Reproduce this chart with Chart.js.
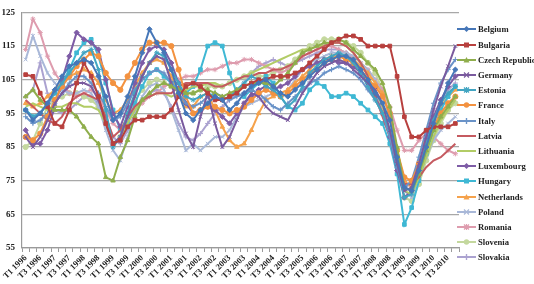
<!DOCTYPE html>
<html>
<head>
<meta charset="utf-8">
<script src="https://cdn.jsdelivr.net/npm/chart.js@4/dist/chart.umd.min.js"></script>
<style>
  html, body { margin: 0; padding: 0; background: #fff; }
  #wrap { position: relative; width: 534px; height: 284px; }
  #legend { position: absolute; left: 457px; top: 0; width: 77px; height: 284px; font-family: "Liberation Serif", serif; font-weight: bold; font-size: 8.6px; color: #222; }
  .li { position: absolute; left: 0; height: 14px; display: flex; align-items: center; white-space: nowrap; }
  .li svg { flex: none; margin-right: 2px; }
</style>
</head>
<body>
<div id="wrap">
  <canvas id="c" width="534" height="284"></canvas>
  <div id="legend"></div>
</div>
<script>
// Categories: quarters T1 1996 .. T4 2010
const years = [1996,1997,1998,1999,2000,2001,2002,2003,2004,2005,2006,2007,2008,2009,2010];
const quarters = ["T1","T2","T3","T4"];
const categories = [];
years.forEach(y => quarters.forEach(q => categories.push(q + " " + y)));

const yTicks = [55, 65, 75, 85, 95, 105, 115, 125];

const seriesNames = ["Belgium","Bulgaria","Czech Republic","Germany","Estonia","France","Italy","Latvia","Lithuania","Luxembourg","Hungary","Netherlands","Poland","Romania","Slovenia","Slovakia"];

const belgium = [96,93,95,98,102,106,109,110, 111,110,106,100,93,95,100,106, 113,120,116,113,108,101,95,93, 96,98,100,99,96,98,101,103, 104,105,103,101,100,102,104,106, 108,110,111,112,112,111,108,105, 101,98,93,82,73,72,78,85, 92,98,104,108];
const bulgaria = [106.5,106,101,97,92,91,96,104, 110,106,100,92,86,87,91,93, 93,94,94,94,96,100,103,104, 103,101,99,99,100,101,103,104, 105,105,106,106,106,107,108,110, 112,114,116,117,118,118,117,115, 115,115,115,106,94,88,88,90, 91,91,91,92];
const czech = [100,102,99,97,96,96,96,94, 91,88,86,76,75,82,87,94, 99,101,103,104,103,102,101,101, 102,102,101,100,101,102,103,104, 104,104,103,105,107,110,113,114, 115,116,116,117,116,114,112,110, 108,104,97,85,73,72,77,84, 90,94,97,100];
const germany = [88,85,88,93,98,101,103,104, 104,103,99,92,86,88,94,100, 106,110,112,111,104,96,89,85, 94,101,92,85,88,93,98,101, 100,97,95,94,93,97,101,104, 107,109,110,111,110,108,106,104, 102,98,90,80,72,73,80,88, 96,103,109,115];
const estonia = [96,94,95,98,101,104,107,110, 113,114,108,96,85,88,95,101, 106,110,113,112,108,104,100,99, 100,101,100,99,100,102,104,106, 105,103,102,100,97,99,103,107, 109,111,112,113,112,110,107,103, 99,95,90,80,70,71,78,86, 93,98,101,103];
const france = [88,87,89,94,99,103,106,109, 111,113,112,107,104,102,106,110, 114,116,116,116,115,108,100,95, 96,97,97,96,95,96,97,99, 101,102,101,100,101,103,105,107, 108,110,111,112,111,110,108,105, 103,100,95,84,76,75,80,86, 91,95,98,100];
const italy = [94,92,93,95,98,101,104,106, 106,104,101,97,93,94,98,102, 105,107,108,107,104,101,98,97, 98,100,101,100,99,100,101,102, 101,99,97,96,98,100,102,104, 105,107,108,109,108,107,105,102, 99,95,88,79,73,75,82,90, 98,104,108,111];
const latvia = [99,97,95,93,92,94,98,100, 101,100,99,94,88,90,94,97, 99,100,101,101,101,103,104,104, 104,104,103,103,104,105,106,106, 107,107,108,108,109,110,112,113, 114,115,116,116,115,113,110,106, 100,94,88,80,74,74,76,79, 81,82,84,86];
const lithuania = [97,98,97,96,97,97,98,98, 97,97,96,92,86,88,92,96, 99,100,101,101,100,101,102,103, 103,104,104,103,104,105,106,107, 108,109,110,111,112,113,114,114, 115,115,116,116,115,113,110,106, 102,97,90,81,72,71,76,82, 88,93,96,99];
const luxembourg = [90,86,86,90,97,105,112,119, 117,116,114,105,95,91,97,104, 110,114,115,114,110,104,98,95, 96,97,96,94,92,95,98,100, 102,103,102,103,104,106,108,109, 110,111,111,110,110,109,107,104, 100,95,88,78,70,72,79,87, 94,99,103,106];
const hungary = [96,94,95,98,101,104,108,113, 116,117,112,104,96,90,92,98, 103,107,108,106,104,102,101,103, 108,115,116,115,107,101,100,102, 104,106,104,100,97,96,98,102, 104,103,100,100,101,100,98,96, 94,92,86,77,62,67,75,83, 90,96,100,103];
const netherlands = [98,97,98,100,102,104,106,107, 108,107,104,99,95,96,99,103, 107,110,111,110,106,101,97,97, 100,101,96,91,87,85,86,90, 95,99,100,101,102,104,106,108, 110,111,112,112,112,111,109,107, 104,101,94,84,75,73,79,86, 92,97,100,102];
const poland = [111,118,112,107,104,102,101,101, 102,101,97,90,84,81,88,95, 100,103,104,102,96,90,84,86, 84,86,88,88,90,94,97,98, 99,100,101,101,102,105,108,110, 111,112,113,113,113,112,110,108, 105,101,94,83,72,70,76,82, 87,90,92,94];
const romania = [114,123,119,112,107,104,101,100, 101,102,100,96,92,90,93,96, 98,100,101,103,104,105,106,106, 107,108,108,109,110,110,111,111, 110,109,108,107,108,110,112,113, 114,115,115,114,113,112,110,108, 105,102,97,90,84,84,87,89, 88,86,84,83];
const slovenia = [85,87,92,97,99,100,101,101, 100,99,97,95,86,88,94,99, 102,104,105,104,103,102,101,101, 102,103,103,103,104,105,106,107, 106,106,107,108,109,111,113,115, 116,117,117,117,116,115,113,110, 107,102,94,81,70,69,74,81, 87,92,96,98];
const slovakia = [100,102,110,101,96,95,96,98, 100,100,98,94,88,86,90,95, 99,101,102,101,97,92,88,87, 89,92,95,97,99,101,104,107, 109,110,111,110,109,110,111,112, 113,114,114,114,113,111,108,105, 101,96,90,81,73,74,80,86, 93,98,102,104];

const seriesValues = [belgium,bulgaria,czech,germany,estonia,france,italy,latvia,lithuania,luxembourg,hungary,netherlands,poland,romania,slovenia,slovakia];
const seriesColors = ["#4677B8","#B8403E","#8FAE4C","#7A5A9E","#42A5C2","#F39240","#6A93C8","#C55A60","#B2CC66","#7E5CA6","#3FB8D4","#F5A24C","#A9B8D8","#DE9CAE","#C4D89E","#ABA2D0"];
const seriesMarkers = ["rectRot","rect","triangle","crossRot","star","circle","cross","dash","line","rectRot","rect","triangle","crossRot","star","circle","cross"];

const datasets = seriesNames.map((n, k) => ({
  label: n,
  data: seriesValues[k],
  borderColor: seriesColors[k],
  backgroundColor: seriesColors[k],
  pointBackgroundColor: seriesColors[k],
  pointBorderColor: seriesColors[k],
  pointStyle: seriesMarkers[k],
  pointRadius: (seriesMarkers[k] === "line" || seriesMarkers[k] === "dash") ? 0 : 2.6,
  pointBorderWidth: 1,
  borderWidth: 2,
  tension: 0,
  fill: false
}));

const serif = "'Liberation Serif', 'Times New Roman', serif";

new Chart(document.getElementById("c"), {
  type: "line",
  data: { labels: categories, datasets },
  options: {
    responsive: false,
    animation: false,
    devicePixelRatio: 1,
    layout: { padding: { top: 7, right: 75, left: 0, bottom: 0 } },
    plugins: { legend: { display: false }, tooltip: { enabled: false } },
    scales: {
      x: {
        offset: true,
        grid: { display: true, drawOnChartArea: false, offset: true, tickLength: 4, color: "#9A9A9A", lineWidth: 1 },
        border: { color: "#9A9A9A", width: 1.2 },
        ticks: {
          autoSkip: false, minRotation: 45, maxRotation: 45, padding: 1,
          font: { family: serif, size: 8.6, weight: "bold" }, color: "#222",
          callback: function(v, i) { return i % 2 === 0 ? categories[i] : ""; }
        },
        afterFit: function(s) { s.height = 36; }
      },
      y: {
        min: 55, max: 125,
        afterBuildTicks: function(s) { s.ticks = yTicks.map(v => ({ value: v })); },
        grid: { color: "#A8A8A8", lineWidth: 1.3, drawTicks: false },
        border: { color: "#9A9A9A", width: 1.2 },
        ticks: { padding: 7, font: { family: serif, size: 9, weight: "bold" }, color: "#222" },
        afterFit: function(s) { s.width = 22; }
      }
    }
  }
});

// Legend (HTML)
const lg = document.getElementById("legend");
function markerSvg(color, m) {
  let s = '<svg width="19" height="8" viewBox="0 0 19 8"><line x1="0" y1="4" x2="19" y2="4" stroke="' + color + '" stroke-width="2"/>';
  if (m === "rect") s += '<rect x="7" y="1.5" width="5" height="5" fill="' + color + '"/>';
  else if (m === "rectRot") s += '<polygon points="9.5,1 12.5,4 9.5,7 6.5,4" fill="' + color + '"/>';
  else if (m === "triangle") s += '<polygon points="9.5,1 12.5,6.5 6.5,6.5" fill="' + color + '"/>';
  else if (m === "circle") s += '<circle cx="9.5" cy="4" r="2.7" fill="' + color + '"/>';
  else if (m === "crossRot") s += '<path d="M7,1.5 L12,6.5 M12,1.5 L7,6.5" stroke="' + color + '" stroke-width="1.2"/>';
  else if (m === "cross") s += '<path d="M9.5,1 L9.5,7" stroke="' + color + '" stroke-width="1.4"/>';
  else if (m === "star") s += '<path d="M7,1.5 L12,6.5 M12,1.5 L7,6.5 M9.5,1 L9.5,7" stroke="' + color + '" stroke-width="1.2"/>';
  return s + '</svg>';
}
seriesNames.forEach((n, k) => {
  const d = document.createElement("div");
  d.className = "li";
  d.style.top = (29.3 + 15.2 * k - 7) + "px";
  d.innerHTML = markerSvg(seriesColors[k], seriesMarkers[k]) + '<span>' + n + '</span>';
  lg.appendChild(d);
});
</script>
</body>
</html>
